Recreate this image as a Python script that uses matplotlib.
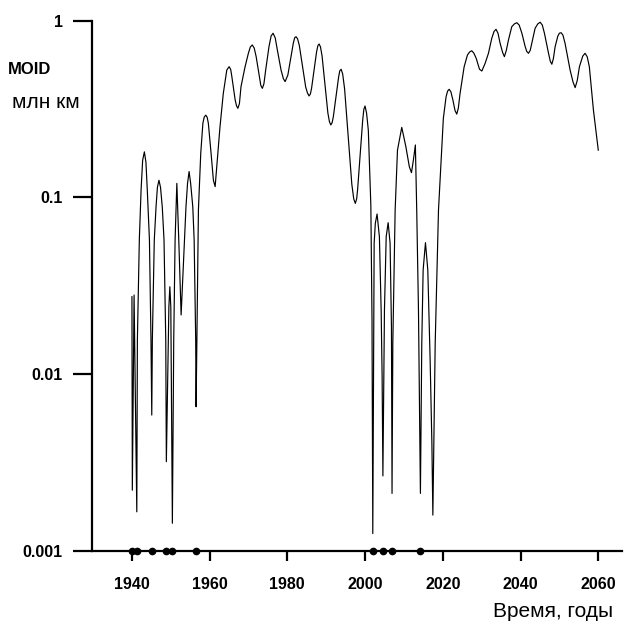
import matplotlib
matplotlib.use('Agg')
import matplotlib.pyplot as plt
from matplotlib.ticker import NullLocator

plt.rcParams['font.family'] = ['Liberation Sans', 'DejaVu Sans']

# годы и MOID (млн км)
years = [1940.05, 1940.15, 1940.6, 1941.3, 1941.45, 1941.95, 1942.4, 1942.8, 1943.25, 1943.65,
         1944.0, 1944.55, 1944.95, 1945.15, 1945.3, 1945.8, 1946.25, 1946.6, 1947.0, 1947.4,
         1947.85, 1948.3, 1948.75, 1948.9,
         1949.55, 1949.8, 1950.05, 1950.45, 1950.8, 1951.15, 1951.6, 1952.1, 1952.7, 1953.55,
         1953.95, 1954.35, 1954.75, 1955.15, 1955.7, 1956.05, 1956.45, 1956.55, 1957.15, 1957.75,
         1958.3, 1958.65, 1959.05, 1959.4, 1959.7, 1960.4, 1961.0, 1961.45, 1962.0, 1962.7,
         1963.55, 1964.45,
         1965.05, 1965.45, 1965.75, 1966.6, 1966.95, 1967.3, 1967.7, 1968.1, 1969.15, 1970.0,
         1970.5, 1971.0, 1971.5, 1972.0, 1972.85, 1973.2, 1973.6, 1974.0, 1974.45, 1975.3,
         1975.85, 1976.35, 1976.9, 1977.45, 1978.4, 1979.0, 1979.45, 1980.15, 1981.55, 1981.9,
         1982.25, 1982.65, 1983.1, 1984.75, 1985.2, 1985.6, 1985.95, 1986.25, 1987.55, 1987.9,
         1988.2, 1988.55, 1988.95, 1990.45, 1990.85, 1991.2, 1991.55, 1991.85, 1993.2, 1993.5,
         1993.85, 1994.25, 1994.75, 1996.6, 1997.1, 1997.5, 1997.85, 1998.1, 1999.4, 1999.7,
         2000.0, 2000.4, 2000.85, 2001.5, 2001.8, 2002.0, 2002.35, 2002.65, 2003.1, 2003.7,
         2004.15, 2004.4, 2004.6, 2005.0, 2005.45, 2005.95, 2006.45, 2006.8, 2006.95, 2007.15,
         2007.75, 2008.35, 2009.45, 2010.5, 2011.4, 2011.95, 2012.45, 2012.95, 2013.3, 2013.75,
         2014.25, 2014.6, 2014.95, 2015.55, 2016.15, 2016.75, 2017.2, 2017.45, 2018.05, 2018.9,
         2020.15, 2020.85, 2021.25, 2021.65, 2022.1, 2022.6, 2023.15, 2023.6, 2024.0, 2024.45,
         2025.5, 2026.35, 2026.9, 2027.45, 2028.0, 2028.6, 2029.45, 2030.05, 2030.9, 2031.75,
         2032.6, 2033.2, 2033.7, 2034.2, 2034.75, 2035.4, 2035.85, 2036.35, 2036.9, 2037.75,
         2038.45, 2039.05, 2039.65, 2040.35, 2041.2, 2041.6, 2042.05, 2042.5, 2042.9, 2043.75,
         2044.45, 2045.05, 2045.6, 2046.15, 2047.2, 2047.65, 2048.05, 2048.45, 2048.9, 2049.6,
         2050.0, 2050.45, 2050.9, 2051.45, 2052.75, 2053.5, 2054.05, 2054.6, 2055.15, 2056.0,
         2056.6, 2057.15, 2057.7, 2058.75, 2060.0]
moid = [0.0274, 0.0022, 0.028, 0.00166, 0.0155, 0.0575, 0.11, 0.162, 0.181, 0.158,
        0.11, 0.0575, 0.0155, 0.00586, 0.0156, 0.0575, 0.0885, 0.114, 0.125, 0.114,
        0.0885, 0.0575, 0.0156, 0.00319,
        0.024, 0.0312, 0.024, 0.00143, 0.0156, 0.0575, 0.12, 0.057, 0.0216, 0.0575,
        0.0885, 0.12, 0.14, 0.12, 0.0885, 0.0575, 0.0156, 0.00653, 0.085, 0.178,
        0.263, 0.285, 0.292, 0.284, 0.263, 0.178, 0.125, 0.115, 0.163, 0.251,
        0.388, 0.526,
        0.549, 0.53, 0.482, 0.356, 0.33, 0.319, 0.34, 0.423, 0.549, 0.654,
        0.71, 0.729, 0.70, 0.626, 0.482, 0.43, 0.414, 0.44, 0.526, 0.713,
        0.82, 0.849, 0.80, 0.683, 0.526, 0.47, 0.452, 0.492, 0.745, 0.80,
        0.812, 0.79, 0.725, 0.42, 0.39, 0.375, 0.385, 0.414, 0.668, 0.725,
        0.738, 0.71, 0.632, 0.3, 0.268, 0.257, 0.265, 0.286, 0.478, 0.52,
        0.531, 0.50, 0.411, 0.119, 0.098, 0.0925, 0.098, 0.111, 0.273, 0.315,
        0.329, 0.3, 0.24, 0.09, 0.02, 0.00125, 0.055, 0.0713, 0.0805, 0.0599,
        0.023, 0.00966, 0.00265, 0.023, 0.06, 0.0719, 0.055, 0.0185, 0.00211, 0.0149,
        0.0849, 0.185, 0.249, 0.194, 0.149, 0.138, 0.163, 0.198, 0.0849, 0.023,
        0.00211, 0.0149, 0.0388, 0.0554, 0.0388, 0.012, 0.00405, 0.00159, 0.0149, 0.0849,
        0.28, 0.371, 0.40, 0.409, 0.395, 0.356, 0.31, 0.296, 0.32, 0.388,
        0.549, 0.64, 0.665, 0.676, 0.655, 0.612, 0.531, 0.519, 0.574, 0.654,
        0.795, 0.87, 0.894, 0.85, 0.745, 0.66, 0.626, 0.68, 0.778, 0.925,
        0.96, 0.974, 0.945, 0.849, 0.713, 0.67, 0.654, 0.68, 0.745, 0.906,
        0.96, 0.98, 0.945, 0.849, 0.654, 0.59, 0.567, 0.61, 0.713, 0.819,
        0.85, 0.855, 0.83, 0.745, 0.526, 0.45, 0.418, 0.46, 0.549, 0.63,
        0.654, 0.625, 0.549, 0.312, 0.185]

# сближения (точки на оси)
approach_years = [1940.15, 1941.3, 1945.15, 1948.9, 1950.45, 1956.55,
                  2002.0, 2004.6, 2006.95, 2014.25]

xticks = [1940, 1960, 1980, 2000, 2020, 2040, 2060]
yticks = [0.001, 0.01, 0.1, 1]
ylabels = ['0.001', '0.01', '0.1', '1']

fig = plt.figure(figsize=(6.35, 6.25), dpi=100)
ax = fig.add_axes([91.7/635, 74.3/625, (622-91.7)/635, 530/625])

ax.plot(years, moid, color='black', lw=0.85)
ax.plot(approach_years, [0.001]*len(approach_years), 'o', color='black', ms=4.5, clip_on=False, zorder=5)

ax.set_yscale('log')
ax.set_ylim(0.001, 1)
ax.set_xlim(1929.7, 2066.1)
ax.yaxis.set_minor_locator(NullLocator())
ax.set_yticks(yticks, ylabels, fontweight='bold', fontsize=11.5)
ax.set_xticks(xticks, [str(x) for x in xticks], fontweight='bold', fontsize=11.5)

ax.spines['top'].set_visible(False)
ax.spines['right'].set_visible(False)
ax.spines['left'].set_linewidth(1.6)
ax.spines['bottom'].set_linewidth(1.6)
ax.tick_params(axis='y', direction='out', length=14, width=1.6, pad=7)
ax.tick_params(axis='x', direction='out', length=7, width=1.6, pad=12)

fig.text(8/635, 1-74/625, 'MOID', fontsize=12, fontweight='bold', va='baseline')
fig.text(12/635, 1-108/625, 'млн км', fontsize=15, va='baseline')
fig.text(613/635, 1-617/625, 'Время, годы', fontsize=15, ha='right', va='baseline')

plt.savefig('out.png', dpi=100)
